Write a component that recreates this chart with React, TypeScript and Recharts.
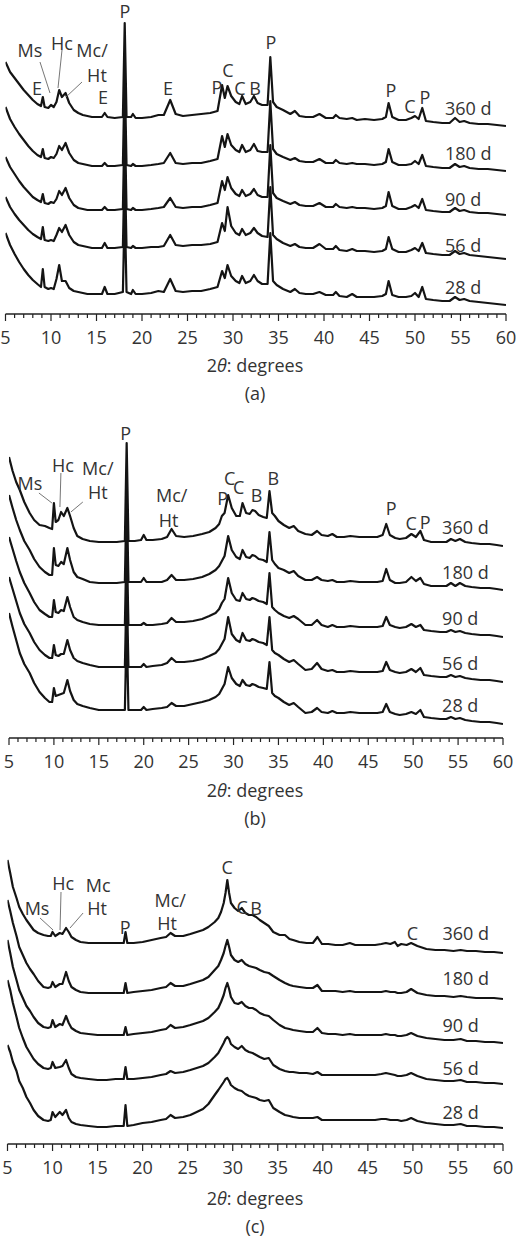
import React from "react";
import { LineChart, Line, XAxis, YAxis, ReferenceDot, ReferenceLine } from "recharts";

// sample ages, top trace first
const AGES = ["360 d", "180 d", "90 d", "56 d", "28 d"];
const KEYS = ["d360", "d180", "d90", "d56", "d28"];
const TICKS = Array.from({ length: 56 }, (_, i) => 5 + i);

// ---- panel (a) ----
const THETA_A = [
  5, 5.5, 6, 6.5, 7, 7.5, 8, 8.5, 8.9, 9.1,
  9.3, 9.7, 10, 10.3, 10.6, 10.9, 11.2, 11.6, 12, 12.5,
  13, 13.5, 14, 14.5, 15, 15.6, 15.9, 16.2, 17, 17.9,
  18.1, 18.3, 18.8, 19, 19.3, 20, 21, 21.8, 22.4, 23.1,
  23.7, 24.5, 25.5, 26.5, 27.5, 28.3, 28.8, 29.1, 29.4, 29.8,
  30.3, 30.7, 31, 31.4, 31.9, 32.3, 32.7, 33.2, 33.8, 34.1,
  34.4, 34.8, 35.5, 36.3, 36.8, 37.3, 38, 38.8, 39.5, 40.2,
  41, 41.3, 41.7, 42.5, 43.1, 43.6, 44.5, 45.5, 46.4, 46.8,
  47.1, 47.5, 48.2, 49, 49.6, 50, 50.4, 50.8, 51.2, 52,
  53, 53.8, 54.4, 54.9, 55.4, 56, 57, 58, 59, 60,
];
const A360 = [
  64, 54, 48, 42, 36, 31, 26, 22, 20, 29,
  19, 18, 21, 19, 24, 36, 29, 33, 23, 16,
  13, 11, 10, 9, 9, 9, 13, 9, 8, 9,
  103, 9, 9, 12, 8, 8, 9, 11, 11, 26,
  12, 10, 11, 12, 13, 15, 41, 28, 40, 30,
  24, 22, 30, 22, 24, 30, 23, 21, 21, 69,
  24, 19, 16, 12, 15, 10, 9, 9, 12, 8,
  8, 11, 8, 7, 8, 6, 7, 6, 7, 9,
  23, 9, 6, 6, 8, 10, 7, 18, 5, 4,
  3, 3, 8, 4, 5, 3, 2, 2, 1, 0,
];
const A180 = [
  64, 52, 44, 37, 31, 25, 20, 16, 14, 22,
  13, 12, 14, 13, 17, 25, 21, 28, 18, 11,
  8, 7, 6, 5, 5, 5, 8, 5, 5, 6,
  100, 6, 5, 7, 5, 5, 6, 7, 8, 18,
  8, 7, 8, 8, 10, 12, 35, 24, 37, 26,
  21, 19, 26, 19, 21, 27, 20, 19, 19, 70,
  22, 17, 14, 11, 13, 10, 9, 9, 12, 8,
  8, 11, 8, 7, 8, 7, 7, 6, 7, 9,
  22, 9, 6, 6, 7, 10, 7, 16, 5, 4,
  3, 3, 7, 4, 5, 3, 2, 2, 1, 0,
];
const A90 = [
  58, 48, 41, 34, 28, 23, 18, 15, 13, 21,
  12, 11, 13, 12, 16, 24, 20, 27, 17, 10,
  7, 6, 5, 5, 5, 5, 8, 5, 5, 6,
  100, 6, 5, 7, 5, 5, 6, 7, 8, 17,
  8, 7, 8, 8, 10, 12, 34, 25, 38, 27,
  21, 19, 25, 19, 21, 26, 20, 18, 18, 70,
  22, 17, 14, 11, 13, 10, 9, 9, 12, 8,
  8, 11, 8, 7, 8, 7, 7, 6, 7, 9,
  23, 9, 6, 6, 8, 10, 7, 16, 5, 4,
  3, 3, 7, 4, 5, 3, 2, 2, 1, 0,
];
const A56 = [
  62, 52, 45, 39, 34, 29, 25, 22, 20, 32,
  19, 18, 19, 18, 24, 31, 27, 34, 24, 17,
  14, 13, 12, 11, 11, 11, 16, 11, 11, 12,
  100, 12, 11, 13, 11, 11, 12, 12, 13, 24,
  14, 13, 14, 14, 15, 17, 36, 28, 52, 33,
  26, 24, 30, 24, 26, 31, 26, 23, 22, 72,
  24, 20, 16, 13, 15, 12, 11, 11, 15, 10,
  10, 13, 9, 8, 10, 8, 8, 7, 8, 10,
  22, 10, 7, 7, 9, 11, 8, 16, 6, 5,
  4, 4, 8, 5, 6, 4, 3, 2, 1, 0,
];
const A28 = [
  72, 60, 51, 43, 36, 30, 25, 21, 18, 36,
  18, 16, 17, 16, 26, 40, 24, 24, 17, 14,
  13, 12, 11, 11, 11, 11, 18, 11, 11, 13,
  100, 13, 11, 15, 11, 11, 12, 14, 13, 26,
  14, 13, 14, 14, 16, 18, 34, 27, 40, 29,
  24, 22, 29, 22, 24, 30, 24, 21, 21, 72,
  24, 20, 16, 13, 16, 12, 11, 11, 13, 10,
  10, 13, 9, 8, 11, 8, 8, 8, 9, 11,
  24, 10, 8, 8, 9, 12, 8, 18, 6, 5,
  4, 4, 8, 5, 6, 4, 3, 2, 1, 0,
];
const OFFSET_A = [188, 143, 99, 55, 9];

// ---- panel (b) ----
const THETA_B = [
  5, 5.4, 5.8, 6.2, 6.7, 7.3, 7.8, 8.4, 9, 9.5,
  9.8, 10, 10.2, 10.5, 10.8, 11.1, 11.5, 11.8, 12.2, 12.6,
  13.2, 14, 15, 16, 17, 17.9, 18.1, 18.3, 19, 19.7,
  20, 20.3, 21, 22, 22.6, 23.1, 23.6, 24.5, 25.5, 26.5,
  27.3, 28, 28.4, 28.7, 29, 29.4, 29.8, 30.3, 30.7, 31,
  31.4, 31.8, 32.1, 32.4, 32.8, 33.3, 33.7, 34, 34.3, 34.6,
  35, 35.6, 36.2, 36.7, 37.2, 38, 38.7, 39.3, 39.8, 40.5,
  41, 41.5, 42.3, 43, 44, 45, 46, 46.6, 47, 47.4,
  48, 48.5, 49.2, 49.8, 50.3, 50.8, 51.2, 52, 53, 53.7,
  54.2, 54.7, 55.2, 55.8, 56.5, 57.5, 58.5, 59.3, 60,
];
const B360 = [
  89, 75, 64, 56, 44, 33, 26, 21, 20, 18,
  17, 43, 24, 26, 34, 30, 38, 30, 18, 10,
  7, 5, 4, 4, 4, 5, 103, 5, 5, 6,
  11, 6, 6, 7, 9, 17, 10, 9, 10, 12,
  14, 18, 22, 30, 33, 51, 38, 30, 30, 43,
  33, 32, 36, 35, 31, 29, 28, 55, 33, 30,
  25, 21, 18, 20, 15, 12, 11, 15, 11, 10,
  12, 9, 9, 10, 9, 9, 9, 11, 22, 11,
  8, 7, 8, 12, 9, 15, 6, 4, 4, 4,
  7, 5, 7, 4, 3, 2, 2, 1, 0,
];
const B180 = [
  95, 82, 70, 60, 49, 40, 31, 23, 18, 15,
  15, 42, 25, 24, 28, 26, 42, 30, 18, 13,
  11, 8, 7, 7, 7, 8, 100, 8, 8, 8,
  12, 8, 8, 8, 10, 15, 10, 10, 11, 13,
  16, 20, 24, 29, 34, 54, 40, 33, 31, 40,
  33, 32, 35, 34, 31, 30, 28, 58, 30, 26,
  22, 20, 17, 19, 14, 10, 10, 13, 10, 9,
  10, 8, 8, 9, 8, 8, 8, 9, 21, 10,
  7, 7, 8, 13, 9, 12, 6, 4, 4, 4,
  7, 4, 7, 4, 3, 2, 2, 1, 0,
];
const B90 = [
  100, 88, 76, 65, 54, 44, 35, 27, 23, 20,
  20, 37, 25, 24, 27, 26, 40, 30, 20, 17,
  15, 13, 12, 12, 12, 12, 100, 12, 12, 12,
  14, 12, 12, 13, 14, 19, 15, 15, 16, 18,
  21, 24, 28, 34, 38, 59, 44, 37, 36, 44,
  38, 37, 39, 38, 36, 35, 33, 64, 30, 27,
  24, 21, 19, 21, 18, 12, 12, 17, 12, 10,
  12, 10, 10, 11, 10, 10, 10, 11, 20, 12,
  10, 9, 10, 13, 10, 12, 7, 6, 5, 5,
  7, 5, 6, 4, 3, 2, 2, 1, 0,
];
const B56 = [
  105, 93, 81, 69, 58, 49, 40, 32, 27, 24,
  24, 37, 27, 26, 28, 28, 42, 32, 24, 21,
  19, 17, 15, 15, 15, 15, 100, 15, 15, 15,
  18, 15, 16, 17, 19, 24, 20, 20, 21, 23,
  26, 29, 33, 38, 43, 65, 48, 42, 40, 49,
  42, 41, 43, 42, 40, 39, 37, 65, 32, 29,
  27, 23, 20, 22, 18, 12, 13, 19, 13, 11,
  12, 10, 10, 11, 10, 10, 10, 11, 20, 12,
  10, 9, 10, 13, 10, 14, 7, 6, 5, 5,
  7, 5, 6, 4, 3, 2, 2, 1, 0,
];
const B28 = [
  111, 97, 84, 71, 60, 51, 41, 32, 26, 22,
  22, 36, 28, 29, 30, 31, 44, 33, 24, 20,
  18, 16, 14, 14, 14, 14, 100, 14, 14, 14,
  17, 14, 15, 16, 17, 21, 18, 18, 20, 22,
  24, 27, 30, 35, 40, 57, 46, 40, 38, 44,
  39, 38, 40, 39, 37, 36, 35, 62, 31, 28,
  26, 22, 19, 21, 17, 11, 12, 16, 12, 11,
  13, 11, 11, 12, 11, 11, 11, 12, 20, 12,
  10, 9, 10, 12, 10, 14, 7, 6, 5, 5,
  7, 5, 6, 4, 3, 2, 2, 1, 0,
];
const OFFSET_B = [192, 148, 101, 56, 14];

// ---- panel (c) ----
const THETA_C = [
  5, 5.3, 5.6, 6, 6.3, 6.7, 7.1, 7.5, 7.9, 8.4,
  9, 9.5, 9.8, 10, 10.3, 10.8, 11.1, 11.5, 11.8, 12.1,
  12.6, 13.1, 14, 15, 16, 17, 17.9, 18.1, 18.3, 19,
  20, 21, 22, 22.6, 23.1, 23.6, 24.5, 25.3, 26, 26.7,
  27.3, 28, 28.4, 28.7, 29, 29.2, 29.4, 29.6, 29.8, 30.2,
  30.6, 31, 31.4, 31.8, 32.2, 32.6, 33, 33.5, 34, 34.5,
  35.2, 35.8, 36.3, 36.7, 37.4, 38.2, 38.9, 39.4, 39.9, 40.6,
  41.4, 42.2, 43, 43.6, 44.3, 45, 45.8, 46.5, 47, 47.5,
  48, 48.3, 48.7, 49.3, 49.8, 50.5, 51.5, 52.5, 53.5, 54.5,
  55.3, 56, 57, 58, 59, 60,
];
const C360 = [
  93, 80, 66, 55, 46, 39, 33, 28, 23, 20,
  18, 17, 17, 21, 17, 20, 19, 25, 21, 16,
  13, 11, 10, 10, 10, 10, 10, 21, 10, 10,
  11, 13, 15, 16, 20, 17, 17, 19, 21, 23,
  26, 31, 35, 41, 50, 60, 73, 60, 50, 45,
  42, 45, 40, 38, 38, 36, 33, 30, 27, 21,
  18, 18, 14, 13, 11, 10, 10, 16, 9, 9,
  8, 8, 10, 8, 8, 8, 8, 9, 10, 9,
  11, 7, 9, 8, 10, 7, 4, 3, 3, 2,
  3, 2, 2, 1, 1, 0,
];
const C180 = [
  99, 88, 76, 63, 52, 44, 36, 30, 25, 18,
  12, 11, 12, 17, 12, 15, 15, 27, 18, 12,
  9, 7, 6, 6, 6, 6, 6, 16, 6, 7,
  8, 9, 11, 12, 16, 13, 13, 15, 17, 19,
  22, 29, 33, 39, 46, 53, 59, 52, 44, 39,
  37, 39, 35, 33, 32, 31, 29, 27, 26, 23,
  19, 16, 14, 13, 12, 11, 11, 14, 8, 8,
  8, 7, 8, 7, 7, 7, 7, 7, 8, 7,
  7, 6, 6, 7, 10, 6, 4, 3, 3, 2,
  3, 2, 1, 1, 1, 0,
];
const C90 = [
  103, 90, 76, 63, 53, 45, 37, 32, 26, 20,
  16, 15, 16, 23, 16, 19, 18, 27, 20, 15,
  12, 10, 9, 8, 8, 8, 8, 16, 8, 9,
  10, 11, 13, 14, 18, 15, 16, 18, 20, 22,
  25, 31, 35, 41, 48, 55, 60, 54, 46, 40,
  39, 41, 37, 35, 35, 33, 30, 28, 27, 23,
  18, 15, 14, 13, 12, 11, 11, 15, 10, 9,
  9, 8, 9, 8, 8, 8, 8, 8, 9, 8,
  8, 7, 7, 8, 10, 7, 5, 4, 3, 3,
  4, 2, 2, 1, 1, 0,
];
const C56 = [
  104, 94, 81, 67, 56, 46, 37, 31, 25, 20,
  16, 15, 16, 22, 16, 17, 18, 24, 16, 10,
  7, 6, 5, 4, 4, 5, 5, 17, 5, 5,
  6, 7, 9, 10, 13, 11, 12, 14, 16, 18,
  21, 27, 31, 36, 41, 45, 47, 45, 40, 37,
  35, 38, 34, 32, 31, 29, 27, 25, 26, 19,
  15, 13, 12, 12, 11, 11, 10, 12, 9, 9,
  9, 9, 9, 9, 9, 9, 9, 10, 11, 10,
  9, 8, 8, 9, 11, 8, 5, 4, 3, 3,
  4, 2, 2, 1, 1, 0,
];
const C28 = [
  83, 76, 66, 57, 47, 40, 31, 25, 18, 12,
  8, 7, 8, 16, 11, 16, 13, 18, 10, 6,
  4, 3, 2, 1, 1, 2, 2, 23, 2, 3,
  5, 6, 8, 9, 13, 10, 11, 13, 16, 19,
  24, 33, 38, 42, 46, 49, 50, 47, 43, 40,
  38, 37, 34, 32, 31, 30, 28, 27, 28, 20,
  16, 13, 12, 11, 10, 10, 10, 11, 8, 8,
  8, 8, 8, 8, 8, 8, 8, 9, 9, 8,
  8, 8, 7, 8, 10, 7, 5, 4, 3, 3,
  4, 2, 2, 1, 1, 0,
];
const OFFSET_C = [191, 145, 101, 60, 16];

// phase labels: [text, 2theta, level]
const LABELS_A: [string, number, number][] = [
  ["P", 18.13, 303], ["Ms", 7.69, 264], ["Hc", 11.21, 271], ["Mc/", 14.51, 264],
  ["Ht", 15.05, 239], ["E", 8.46, 226], ["E", 15.71, 217], ["E", 22.86, 226],
  ["P", 28.24, 227], ["C", 29.45, 244], ["C", 30.77, 226], ["B", 32.42, 226],
  ["P", 34.18, 272], ["P", 47.36, 224], ["C", 49.45, 208], ["P", 51.1, 217],
];
const LEADERS_A: [number, number, number, number][] = [
  [8.79, 252, 9.89, 221], [11.21, 264, 10.77, 226], [13.41, 232, 11.65, 217],
];
const AGE_POS_A: [number, number[]] = [53.3, [206, 161, 115, 69, 27]];

const LABELS_B: [string, number, number][] = [
  ["P", 18.0, 305], ["Ms", 7.33, 255], ["Hc", 11.0, 273], ["Mc/", 14.89, 270],
  ["Ht", 14.89, 246], ["Mc/", 23.11, 243], ["Ht", 22.78, 218], ["P", 28.78, 240],
  ["C", 29.56, 260], ["C", 30.56, 251], ["B", 32.56, 243], ["B", 34.44, 260],
  ["P", 47.56, 230], ["C", 49.78, 215], ["P", 51.33, 216],
];
const LEADERS_B: [number, number, number, number][] = [
  [8.33, 245, 9.78, 235], [10.78, 265, 10.67, 231], [13.22, 236, 11.89, 226],
];
const AGE_POS_B: [number, number[]] = [53.22, [211, 166, 120, 75, 33]];

const LABELS_C: [string, number, number][] = [
  ["Ms", 8.28, 236], ["Hc", 11.17, 261], ["Mc", 15.06, 259], ["Ht", 14.94, 236],
  ["P", 18.06, 217], ["Mc/", 23.06, 244], ["Ht", 22.72, 221], ["C", 29.39, 277],
  ["C", 31.06, 237], ["B", 32.6, 236], ["C", 49.94, 211],
];
const LEADERS_C: [number, number, number, number][] = [
  [8.61, 226, 10.06, 214], [10.94, 252, 10.83, 214], [13.39, 231, 11.94, 216],
];
const AGE_POS_C: [number, number[]] = [53.28, [211, 166, 119, 76, 32]];

const FONT = '"Open Sans", "DejaVu Sans", sans-serif';
const TEXT = "#333";

function buildRows(theta: number[], traces: number[][], offsets: number[]) {
  return theta.map((t, i) => {
    const row: Record<string, number> = { t };
    traces.forEach((tr, k) => {
      row[KEYS[k]] = tr[i] + offsets[k];
    });
    return row;
  });
}

function AxisTick(props: any) {
  const { x, y, payload } = props;
  const major = payload.value % 5 === 0;
  return (
    <g>
      <line x1={x} y1={y} x2={x} y2={y + (major ? 7 : 4)} stroke="#222" strokeWidth={1.2} />
      {major && (
        <text x={x} y={y + 23} textAnchor="middle" dominantBaseline="central" fontSize={18} fontFamily={FONT} fill={TEXT}>
          {payload.value}
        </text>
      )}
    </g>
  );
}

function textShape(label: string, anchor: string) {
  return (p: any) => (
    <text x={p.cx} y={p.cy} textAnchor={anchor} dominantBaseline="central" fontSize={18} fontFamily={FONT} fill={TEXT}>
      {label}
    </text>
  );
}

type PanelProps = {
  top: number;
  plotHeight: number;
  left: number;
  right: number;
  rows: Record<string, number>[];
  labels: [string, number, number][];
  leaders: [number, number, number, number][];
  agePos: [number, number[]];
  tag: string;
  xLabelGap: number;
};

function Panel({ top, plotHeight, left, right, rows, labels, leaders, agePos, tag, xLabelGap }: PanelProps) {
  const axisY = top + plotHeight;
  return (
    <>
      <div style={{ position: "absolute", left: 0, top }}>
        <LineChart width={520} height={plotHeight + 40} data={rows} margin={{ top: 0, right, bottom: 0, left }}>
          <XAxis
            type="number"
            dataKey="t"
            domain={[5, 60]}
            ticks={TICKS}
            interval={0}
            allowDataOverflow
            height={40}
            tickSize={0}
            tickMargin={0}
            tickLine={false}
            tick={<AxisTick />}
            axisLine={{ stroke: "#222", strokeWidth: 1.5 }}
          />
          <YAxis hide type="number" domain={[0, plotHeight]} allowDataOverflow />
          {KEYS.map((k) => (
            <Line
              key={k}
              dataKey={k}
              type="linear"
              stroke="#141414"
              strokeWidth={2.2}
              strokeLinejoin="round"
              dot={false}
              activeDot={false}
              isAnimationActive={false}
            />
          ))}
          {leaders.map((s, i) => (
            <ReferenceLine
              key={"l" + i}
              segment={[{ x: s[0], y: s[1] }, { x: s[2], y: s[3] }]}
              stroke="#666"
              strokeWidth={0.9}
              ifOverflow="visible"
            />
          ))}
          {labels.map((l, i) => (
            <ReferenceDot key={"t" + i} x={l[1]} y={l[2]} r={0} ifOverflow="visible" shape={textShape(l[0], "middle")} />
          ))}
          {AGES.map((a, i) => (
            <ReferenceDot key={"a" + i} x={agePos[0]} y={agePos[1][i]} r={0} ifOverflow="visible" shape={textShape(a, "start")} />
          ))}
        </LineChart>
      </div>
      <div
        style={{
          position: "absolute", left: 150, width: 210, top: axisY + xLabelGap - 12, height: 24,
          lineHeight: "24px", textAlign: "center", fontSize: 18, color: TEXT,
        }}
      >
        2<i>θ</i>: degrees
      </div>
      <div
        style={{
          position: "absolute", left: 150, width: 210, top: axisY + xLabelGap + 28 - 12, height: 24,
          lineHeight: "24px", textAlign: "center", fontSize: 18, color: TEXT,
        }}
      >
        {tag}
      </div>
    </>
  );
}

export default function App() {
  const rowsA = buildRows(THETA_A, [A360, A180, A90, A56, A28], OFFSET_A);
  const rowsB = buildRows(THETA_B, [B360, B180, B90, B56, B28], OFFSET_B);
  const rowsC = buildRows(THETA_C, [C360, C180, C90, C56, C28], OFFSET_C);
  return (
    <div style={{ position: "absolute", left: 0, top: 0, width: 520, height: 1238, background: "#fff", fontFamily: FONT, overflow: "hidden" }}>
      <style>{"svg.recharts-surface { overflow: visible; }"}</style>
      <Panel top={0} plotHeight={314} left={5.5} right={14} rows={rowsA} labels={LABELS_A} leaders={LEADERS_A} agePos={AGE_POS_A} tag="(a)" xLabelGap={51} />
      <Panel top={400} plotHeight={338} left={9} right={17} rows={rowsB} labels={LABELS_B} leaders={LEADERS_B} agePos={AGE_POS_B} tag="(b)" xLabelGap={52} />
      <Panel top={830} plotHeight={314} left={7.5} right={17} rows={rowsC} labels={LABELS_C} leaders={LEADERS_C} agePos={AGE_POS_C} tag="(c)" xLabelGap={54} />
    </div>
  );
}
